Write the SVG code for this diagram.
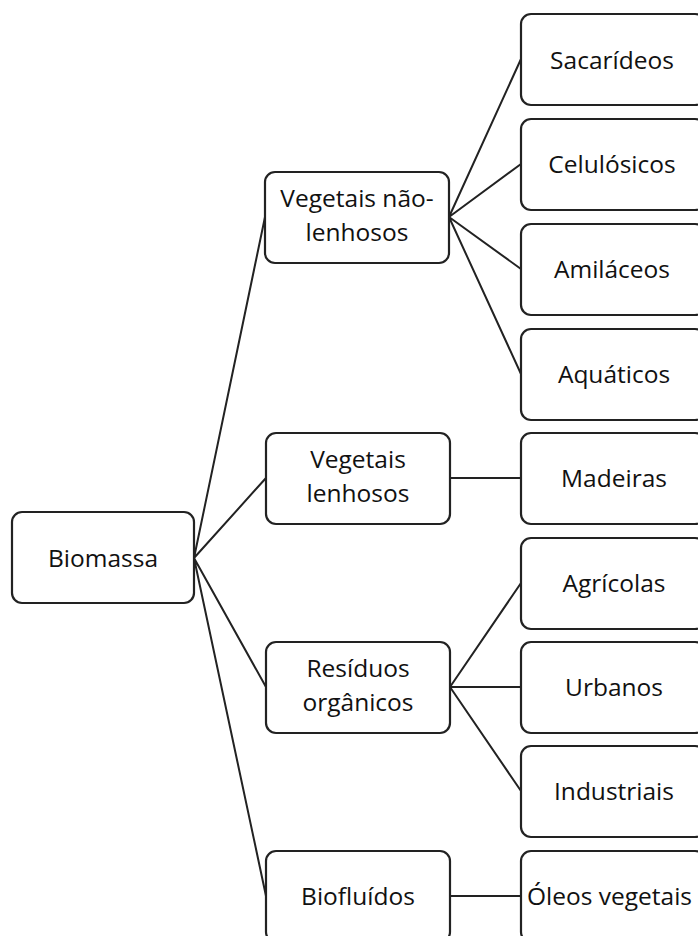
<svg xmlns="http://www.w3.org/2000/svg" width="698" height="936" viewBox="0 0 698 936">
<style>
.box{fill:#fff;stroke:#222;stroke-width:2.2}
.t{font-family:"Open Sans","Liberation Sans",sans-serif;font-size:24.5px;fill:#111;text-anchor:middle}
.s{text-anchor:start}
.c{stroke:#222;stroke-width:2;fill:none}
</style>
<rect width="698" height="936" fill="#fff"/>
<g id="connectors">
<path class="c" d="M194 558 L265 217 M194 558 L266 478 M194 558 L266 687 M194 558 L266 896"/>
<path class="c" d="M449 217 L521 59 M449 217 L521 164 M449 217 L521 269 M449 217 L521 374"/>
<path class="c" d="M450 478 L521 478"/>
<path class="c" d="M450 687 L521 583 M450 687 L521 687 M450 687 L521 791"/>
<path class="c" d="M450 896 L521 896"/>
</g>
<g id="biomassa"><rect class="box" x="12" y="512" width="182" height="91" rx="10"/><text class="t" x="103" y="567">Biomassa</text></g>
<g id="vnl"><rect class="box" x="265" y="172" width="184" height="91" rx="10"/><text class="t" x="357" y="207">Vegetais não-</text><text class="t" x="357" y="241">lenhosos</text></g>
<g id="vl"><rect class="box" x="266" y="433" width="184" height="91" rx="10"/><text class="t" x="358" y="468">Vegetais</text><text class="t" x="358" y="502">lenhosos</text></g>
<g id="ro"><rect class="box" x="266" y="642" width="184" height="91" rx="10"/><text class="t" x="358" y="677">Resíduos</text><text class="t" x="358" y="711">orgânicos</text></g>
<g id="bio"><rect class="box" x="266" y="851" width="184" height="91" rx="10"/><text class="t" x="358" y="905">Biofluídos</text></g>
<g id="sac"><rect class="box" x="521" y="14" width="184" height="91" rx="10"/><text class="t" x="612" y="69">Sacarídeos</text></g>
<g id="cel"><rect class="box" x="521" y="119" width="184" height="91" rx="10"/><text class="t" x="612" y="173">Celulósicos</text></g>
<g id="ami"><rect class="box" x="521" y="224" width="184" height="91" rx="10"/><text class="t" x="612" y="278">Amiláceos</text></g>
<g id="aqu"><rect class="box" x="521" y="329" width="184" height="91" rx="10"/><text class="t" x="614" y="383">Aquáticos</text></g>
<g id="mad"><rect class="box" x="521" y="433" width="184" height="91" rx="10"/><text class="t" x="614" y="487">Madeiras</text></g>
<g id="agr"><rect class="box" x="521" y="538" width="184" height="91" rx="10"/><text class="t" x="614" y="592">Agrícolas</text></g>
<g id="urb"><rect class="box" x="521" y="642" width="184" height="91" rx="10"/><text class="t" x="614" y="696">Urbanos</text></g>
<g id="ind"><rect class="box" x="521" y="746" width="184" height="91" rx="10"/><text class="t" x="614" y="800">Industriais</text></g>
<g id="ole"><rect class="box" x="521" y="851" width="184" height="91" rx="10"/><text class="t s" x="527" y="905">Óleos vegetais</text></g>
</svg>
